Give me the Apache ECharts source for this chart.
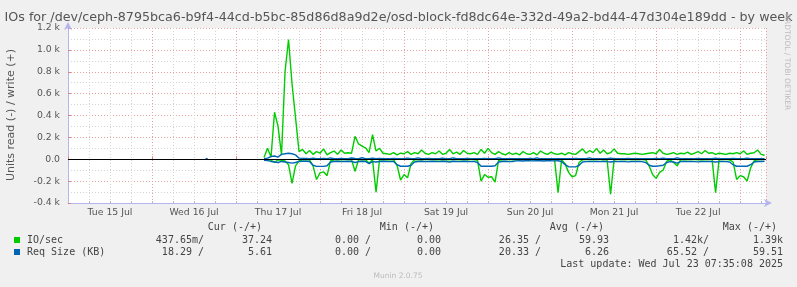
<!DOCTYPE html>
<html><head><meta charset="utf-8">
<style>html,body{margin:0;padding:0;background:#f0f0f0;}#c{width:797px;height:287px;}</style>
<script src="https://cdn.jsdelivr.net/npm/echarts@6/dist/echarts.min.js"></script>
</head><body><div id="c"></div>
<script>
// x axis: hours since Tue 15 Jul 00:00
const dayLabels = ['Tue 15 Jul','Wed 16 Jul','Thu 17 Jul','Fri 18 Jul','Sat 19 Jul','Sun 20 Jul','Mon 21 Jul','Tue 22 Jul'];
const yTicks = [-400,-200,0,200,400,600,800,1000,1200];
const yTickLabels = ['-0.4 k','-0.2 k','0.0','0.2 k','0.4 k','0.6 k','0.8 k','1.0 k','1.2 k'];
const firstHour = 56; // hourly samples from Thu 17 Jul 08:00

// IO/sec write (+)
const ioWrite = [
  15,100,20,430,300,40,800,1095,690,380,70,90,
  50,80,45,70,55,95,40,60,75,45,85,55,
  60,55,210,140,120,105,60,225,75,100,55,50,
  45,60,40,55,50,70,45,60,50,85,55,45,
  60,50,75,45,55,90,50,65,45,80,55,50,
  60,45,90,55,100,60,45,70,50,40,60,45,
  55,40,70,50,45,60,40,75,55,45,65,50,
  45,55,40,60,50,45,70,95,55,80,60,100,
  55,85,50,60,95,55,50,50,45,50,55,50,
  45,50,55,60,50,90,55,45,50,60,45,55,
  50,65,45,55,70,50,80,55,60,45,55,50,
  45,55,50,60,50,75,45,55,60,85,45,37
];
// IO/sec read (-)
const ioRead = [
  -2,-5,-8,-30,-5,-10,-15,-50,-220,-60,-15,-5,
  -3,-5,-60,-185,-125,-115,-150,-15,-5,-3,-4,-3,
  -3,-5,-110,-5,-3,-4,-35,-5,-300,-5,-3,-4,
  -3,-4,-55,-190,-140,-170,-40,-5,-3,-4,-3,-3,
  -3,-4,-3,-5,-3,-4,-3,-3,-4,-3,-5,-3,
  -3,-10,-200,-140,-165,-160,-210,-10,-4,-3,-3,-4,
  -3,-4,-3,-3,-5,-3,-4,-3,-3,-4,-3,-5,
  -305,-5,-40,-120,-160,-150,-30,-4,-3,-3,-4,-3,
  -3,-4,-5,-320,-4,-3,-3,-4,-3,-3,-5,-3,
  -3,-4,-60,-140,-175,-120,-100,-20,-4,-30,-60,-5,
  -3,-4,-3,-3,-5,-3,-4,-3,-3,-305,-4,-3,
  -3,-5,-25,-185,-150,-160,-200,-80,-15,-4,-3,-1
];
// Req Size (KB) write (+)
const reqWrite = [
  5,10,25,30,20,45,50,55,50,40,10,8,
  8,5,10,6,4,7,5,12,6,4,8,5,
  6,12,8,5,14,6,4,10,5,7,4,6,
  5,8,4,6,5,10,4,6,12,5,4,7,
  5,4,6,10,4,5,12,6,4,5,8,4,
  6,5,4,8,5,4,6,12,5,4,6,5,
  4,6,5,4,8,5,12,4,6,5,4,6,
  5,4,6,4,5,8,4,6,5,12,4,5,
  6,4,5,10,4,6,5,4,8,5,4,6,
  5,4,6,5,8,4,10,5,4,6,12,5,
  4,6,5,4,8,5,4,6,5,10,4,6,
  5,4,8,5,6,4,10,5,4,6,5,6
];
// Req Size (KB) read (-)
const reqRead = [
  -10,-12,-20,-25,-30,-20,-25,-30,-35,-30,-20,-18,
  -18,-20,-55,-65,-65,-65,-60,-25,-20,-18,-22,-20,
  -18,-20,-30,-22,-18,-20,-40,-22,-25,-20,-18,-20,
  -22,-20,-50,-64,-64,-64,-55,-25,-20,-18,-22,-20,
  -18,-20,-22,-18,-20,-25,-18,-20,-22,-18,-20,-22,
  -20,-30,-64,-64,-64,-64,-60,-25,-20,-18,-22,-20,
  -15,-14,-16,-12,-14,-15,-13,-14,-16,-12,-14,-15,
  -14,-20,-50,-68,-70,-70,-55,-25,-22,-20,-22,-20,
  -22,-20,-22,-25,-20,-22,-20,-22,-24,-20,-22,-20,
  -22,-30,-55,-64,-64,-60,-55,-30,-22,-25,-35,-22,
  -20,-22,-20,-22,-24,-20,-22,-20,-22,-25,-22,-20,
  -22,-25,-50,-64,-64,-64,-64,-50,-25,-20,-20,-18
];
const blipHours = [39.3, 39.9];
const blipValues = [3, 3];

const legendHeaders = ['Cur (-/+)','Min (-/+)','Avg (-/+)','Max (-/+)'];
const ioStats = ['437.65m/','37.24','0.00 /','0.00','26.35 /','59.93','1.42k/','1.39k'];
const reqStats = ['18.29 /','5.61','0.00 /','0.00','20.33 /','6.26','65.52 /','59.51'];
const seriesNames = ['IO/sec','Req Size (KB)'];
const title = 'IOs for /dev/ceph-8795bca6-b9f4-44cd-b5bc-85d86d8a9d2e/osd-block-fd8dc64e-332d-49a2-bd44-47d304e189dd - by week';

function pairs(arr){ return arr.map((v,i)=>[firstHour+i, v]); }

const GREEN='#00cc00', BLUE='#0066b3';
const chart = echarts.init(document.getElementById('c'), null, {renderer:'canvas'});
const mono = '10px "DejaVu Sans Mono"';
const headerX = [262,434,604,777];
const statX = [204,272,371,441,541,609,709,783];
const graphics = [];
function txt(t,x,y,font,fill,align,rot){
  graphics.push({type:'text', x:x, y:y, rotation:rot||0, silent:true,
    style:{text:t, font:font, fill:fill, textAlign:align, textVerticalAlign:'middle', align:align, verticalAlign:'middle'}});
}
txt(title, 398.5, 18, '12.7px "DejaVu Sans"', '#555', 'center');
txt('Units read (-) / write (+)', 11, 115, '11px "DejaVu Sans"', '#555', 'center', Math.PI/2);
txt('RRDTOOL / TOBI OETIKER', 787, 62, '7.5px "DejaVu Sans"', '#bbb', 'center', -Math.PI/2);
legendHeaders.forEach((h,i)=>txt(h, headerX[i], 227, mono, '#444', 'right'));
graphics.push({type:'rect', shape:{x:14,y:237,width:6,height:6}, style:{fill:GREEN}, silent:true});
graphics.push({type:'rect', shape:{x:14,y:249,width:6,height:6}, style:{fill:BLUE}, silent:true});
txt(seriesNames[0], 27, 240, mono, '#444', 'left');
txt(seriesNames[1], 27, 252, mono, '#444', 'left');
ioStats.forEach((s,i)=>txt(s, statX[i], 240, mono, '#444', 'right'));
reqStats.forEach((s,i)=>txt(s, statX[i], 252, mono, '#444', 'right'));
txt('Last update: Wed Jul 23 07:35:08 2025', 783, 264, mono, '#444', 'right');
txt('Munin 2.0.75', 398, 276, '7.5px "DejaVu Sans"', '#bbb', 'center');

const axisFont = {fontFamily:'DejaVu Sans', fontSize:9.3, color:'#555'};
const XMAX = 199.4;
function lineSeries(data, color, extra){
  return Object.assign({type:'line', data:data, symbol:'none', showSymbol:false, xAxisIndex:0, yAxisIndex:0,
    lineStyle:{color:color, width:1.4}, itemStyle:{color:color}, animation:false, silent:true}, extra||{});
}
chart.setOption({
  backgroundColor:'#f0f0f0',
  animation:false,
  grid:{left:68, top:28, width:698, height:175, show:true, backgroundColor:'#ffffff', borderWidth:0, containLabel:false},
  xAxis:[
    {type:'value', min:0, max:XMAX, interval:6, position:'bottom',
     axisLine:{show:true, onZero:false, lineStyle:{color:'#b4b4ee', width:1}, symbol:['none','arrow'], symbolSize:[6,8], symbolOffset:[0,6]},
     axisTick:{show:true, inside:true, length:2, lineStyle:{color:'#bbbbbb'}},
     axisLabel:Object.assign({margin:5, showMaxLabel:false, formatter:v=>(v%24===12 ? dayLabels[(v-12)/24] : '')}, axisFont),
     splitLine:{show:true, lineStyle:{color:'#d4d4d4', type:[1,2], width:1}}},
    {type:'value', min:0, max:XMAX, interval:24, position:'bottom',
     axisLine:{show:false}, axisTick:{show:true, inside:true, length:3, lineStyle:{color:'#e08080'}}, axisLabel:{show:false},
     splitLine:{show:true, lineStyle:{color:'#e8a0a0', type:[1,2], width:1}}}
  ],
  yAxis:[
    {type:'value', min:-400, max:1200, interval:100, position:'left',
     axisLine:{show:true, onZero:false, lineStyle:{color:'#b4b4ee', width:1}, symbol:['none','arrow'], symbolSize:[6,8], symbolOffset:[0,6]},
     axisTick:{show:false}, axisLabel:{show:false},
     splitLine:{show:true, lineStyle:{color:'#d4d4d4', type:[1,2], width:1}}},
    {type:'value', min:-400, max:1200, interval:200, position:'left', offset:0,
     axisLine:{show:false}, axisTick:{show:true, inside:true, length:3, lineStyle:{color:'#e08080'}},
     axisLabel:Object.assign({margin:8, formatter:v=>{const i=yTicks.indexOf(v); return i<0?'':yTickLabels[i];}}, axisFont),
     splitLine:{show:true, lineStyle:{color:'#e8a0a0', type:[1,2], width:1}}}
  ],
  series:[
    lineSeries(pairs(ioRead), GREEN),
    lineSeries(pairs(ioWrite), GREEN),
    lineSeries(pairs(reqRead), BLUE),
    lineSeries(pairs(reqWrite), BLUE, {markLine:{silent:true, symbol:'none', label:{show:false},
      lineStyle:{color:'#000000', width:1, type:'solid'}, data:[{yAxis:0}], animation:false}}),
    lineSeries(blipHours.map((h,i)=>[h, blipValues[i]]), BLUE, {lineStyle:{color:BLUE, width:2}})
  ],
  graphic:graphics
});
</script></body></html>
